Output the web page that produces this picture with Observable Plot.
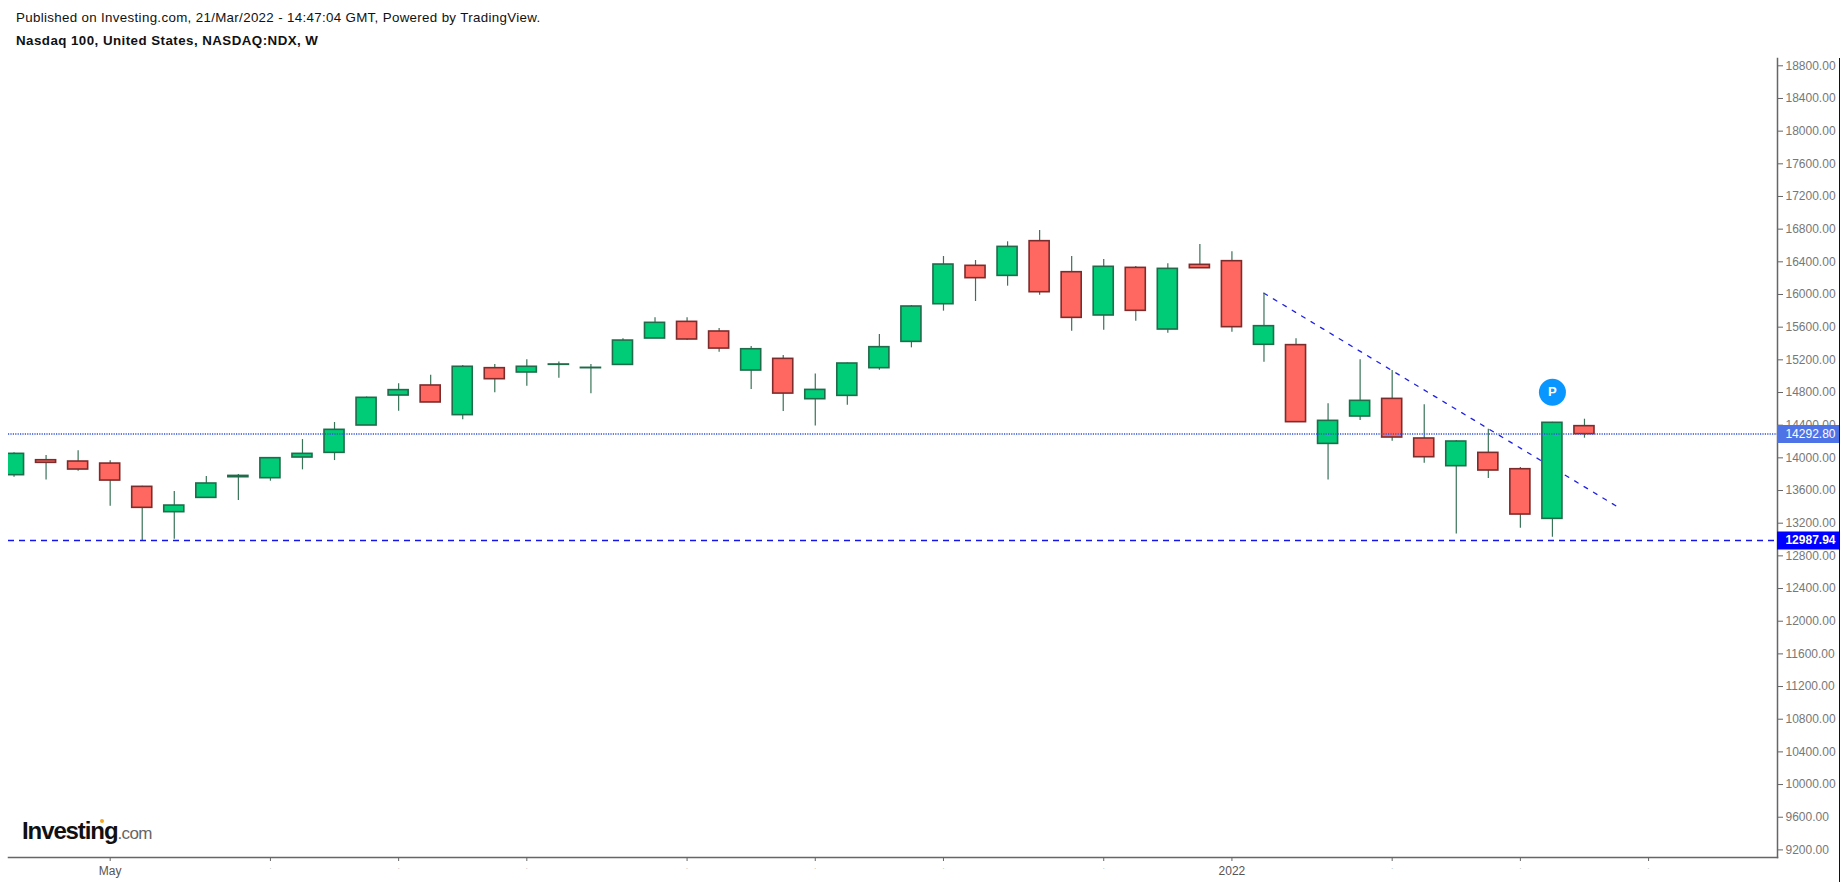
<!DOCTYPE html>
<html>
<head>
<meta charset="utf-8">
<style>
html,body{margin:0;padding:0;background:#fff;width:1847px;height:882px;overflow:hidden;font-family:"Liberation Sans",Arial,sans-serif;position:relative}
#head{height:58px;position:relative}
#l1{position:absolute;left:16px;top:10px;font-size:13.33px;letter-spacing:.33px;color:#111}
#l2{position:absolute;left:16px;top:33px;font-size:13.33px;font-weight:bold;letter-spacing:.45px;color:#111}
#edge{position:absolute;left:1839px;top:58px;width:1px;height:824px;background:#111}
#logo{position:absolute;left:22px;top:814px;font-size:24px;font-weight:bold;letter-spacing:-1.1px;color:#111;line-height:34px}
#logo span{font-size:17px;font-weight:normal;color:#666;letter-spacing:-.6px}
#logo i{position:absolute;left:78px;top:5px;width:4px;height:4px;border-radius:2px;background:#f5a623}
svg{display:block}
</style>
<script src="https://cdn.jsdelivr.net/npm/d3@7"></script>
<script src="https://cdn.jsdelivr.net/npm/@observablehq/plot@0.6"></script>
</head>
<body>
<div id="head">
<div id="l1">Published on Investing.com, 21/Mar/2022 - 14:47:04 GMT, Powered by TradingView.</div>
<div id="l2">Nasdaq 100, United States, NASDAQ:NDX, W</div>
</div>
<div id="chart"></div>
<div id="edge"></div>
<div id="logo">Investing<span>.com</span><i></i></div>
<script>
const weeks = ["2021-04-12","2021-04-19","2021-04-26","2021-05-03","2021-05-10","2021-05-17","2021-05-24","2021-05-31","2021-06-07","2021-06-14","2021-06-21","2021-06-28","2021-07-05","2021-07-12","2021-07-19","2021-07-26","2021-08-02","2021-08-09","2021-08-16","2021-08-23","2021-08-30","2021-09-06","2021-09-13","2021-09-20","2021-09-27","2021-10-04","2021-10-11","2021-10-18","2021-10-25","2021-11-01","2021-11-08","2021-11-15","2021-11-22","2021-11-29","2021-12-06","2021-12-13","2021-12-20","2021-12-27","2022-01-03","2022-01-10","2022-01-17","2022-01-24","2022-01-31","2022-02-07","2022-02-14","2022-02-21","2022-02-28","2022-03-07","2022-03-14","2022-03-21","2022-03-28","2022-04-04","2022-04-11","2022-04-18","2022-04-25","2022-05-02"];
const opens = [13788,13971,13955,13930,13645,13335,13510,13763,13751,14004,14061,14396,14763,14886,14523,15098,15045,15139,15098,15138,15461,15665,15547,15069,15212,14718,14759,15098,15420,15881,16351,16228,16653,16273,15743,16326,15571,16363,16408,15384,15380,14171,14506,14722,14237,13898,14061,13861,13253,14388];
const closes = [14049,13939,13857,13722,13388,13416,13686,13779,13996,14049,14343,14735,14829,14678,15115,14963,15115,15143,15102,15436,15653,15449,15338,15330,14787,14832,15155,15355,15853,16367,16200,16583,16028,15714,16339,15800,16314,16322,15600,15612,14437,14453,14698,14249,14008,14200,13845,13306,14429,14290];
const highs = [14061,14028,14086,13963,13653,13588,13771,13796,14004,14224,14433,14745,14906,15012,15131,15143,15200,15172,15143,15457,15714,15714,15583,15363,15253,15028,15160,15510,15865,16465,16416,16645,16784,16465,16428,16343,16375,16612,16522,16016,15457,14661,15200,15069,14649,14212,14351,13881,14435,14473];
const lows = [13763,13730,13837,13408,12988,13004,13510,13477,13714,13853,13967,14396,14572,14678,14465,14796,14878,14976,14784,15138,15461,15436,15294,14836,14567,14391,14645,15073,15347,15796,15914,16102,15992,15551,15563,15673,15526,16322,15539,15171,14437,13730,14457,14204,13935,13069,13747,13139,13028,14241];
const priceTicks = [9200,9600,10000,10400,10800,11200,11600,12000,12400,12800,13200,13600,14000,14400,14800,15200,15600,16000,16400,16800,17200,17600,18000,18400,18800];
const timeTicks = ["2021-05-03","2021-06-07","2021-07-05","2021-08-02","2021-09-06","2021-10-04","2021-11-01","2021-12-06","2022-01-03","2022-02-07","2022-03-07","2022-04-04"];
const namedTicks = {"2021-05-03":"May","2022-01-03":"2022"};
const lastPrice = 14292.80;
const supportPrice = 12987.94;
const trendWeeks = ["2022-01-10","2022-03-28"];
const trendPrices = [16016,13408];
const badgeWeek = "2022-03-14";
const badgePrice = 14804;

const candles = opens.map((o,i)=>({week:weeks[i],open:o,close:closes[i],high:highs[i],low:lows[i],up:closes[i]>=o}));
const trend = trendWeeks.map((w,i)=>({week:w,price:trendPrices[i]}));
const grey = "#777";

const chart = Plot.plot({
  width:1847, height:824,
  marginTop:0, marginBottom:25, marginLeft:8, marginRight:70,
  style:{fontFamily:"'Liberation Sans',Arial,sans-serif",background:"#fff",overflow:"visible"},
  x:{type:"band",domain:weeks,range:[-2.5,1792.3],padding:0,round:false},
  y:{type:"linear",domain:[9200,18800],range:[791.4,7.3]},
  marks:[
    Plot.axisY(priceTicks,{anchor:"right",tickSize:5,tickPadding:3,tickFormat:d=>d.toFixed(2),fontSize:12,fill:grey,stroke:"#666",label:null}),
    Plot.axisX(timeTicks,{anchor:"bottom",tickSize:4,tickPadding:5,tickFormat:d=>namedTicks[d]||"",fontSize:12,fill:"#555",stroke:"#666",label:null}),
    Plot.axisX(timeTicks.filter(d=>!namedTicks[d]),{anchor:"bottom",tickSize:0,tickPadding:7,tickFormat:()=>".",fontSize:7,fill:"#aaa",label:null}),
    Plot.frame({anchor:"right",stroke:"#666",strokeWidth:1.5}),
    Plot.frame({anchor:"bottom",stroke:"#666",strokeWidth:1.5}),
    Plot.line(trend,{x:"week",y:"price",stroke:"#2020e8",strokeWidth:1.3,strokeDasharray:"4 7",clip:true}),
    Plot.ruleX(candles,{x:"week",y1:"low",y2:"high",stroke:"#3a7358",strokeWidth:1.2,clip:true}),
    Plot.barY(candles,{x:"week",y1:"open",y2:"close",insetLeft:6,insetRight:6,
      fill:d=>d.up?"#00cc77":"#ff6860",
      stroke:d=>d.up?"#1f6b4a":"#7d2b2b",strokeWidth:1.6,clip:true}),
    Plot.ruleY([lastPrice],{stroke:"#2f52e0",strokeWidth:1.4,strokeDasharray:"1.2 1.2"}),
    Plot.ruleY([supportPrice],{stroke:"#1414ee",strokeWidth:1.4,strokeDasharray:"6 5"}),
    Plot.ruleY([lastPrice],{stroke:"#4e73e6",strokeWidth:18,insetLeft:1769,insetRight:-62}),
    Plot.ruleY([supportPrice],{stroke:"#0000ff",strokeWidth:18,insetLeft:1769,insetRight:-62}),
    Plot.text([lastPrice],{y:d=>d,frameAnchor:"right",dx:58,text:d=>d.toFixed(2),textAnchor:"end",fill:"#fff",fontSize:12}),
    Plot.text([supportPrice],{y:d=>d,frameAnchor:"right",dx:58,text:d=>d.toFixed(2),textAnchor:"end",fill:"#fff",fontSize:12,fontWeight:"bold"}),
    Plot.dot([{week:badgeWeek,price:badgePrice}],{x:"week",y:"price",r:13.5,fill:"#0a96ff"}),
    Plot.text([{week:badgeWeek,price:badgePrice}],{x:"week",y:"price",text:()=>"P",fill:"#fff",fontSize:13,fontWeight:"bold"})
  ]
});
document.getElementById("chart").appendChild(chart);
</script>
</body>
</html>
